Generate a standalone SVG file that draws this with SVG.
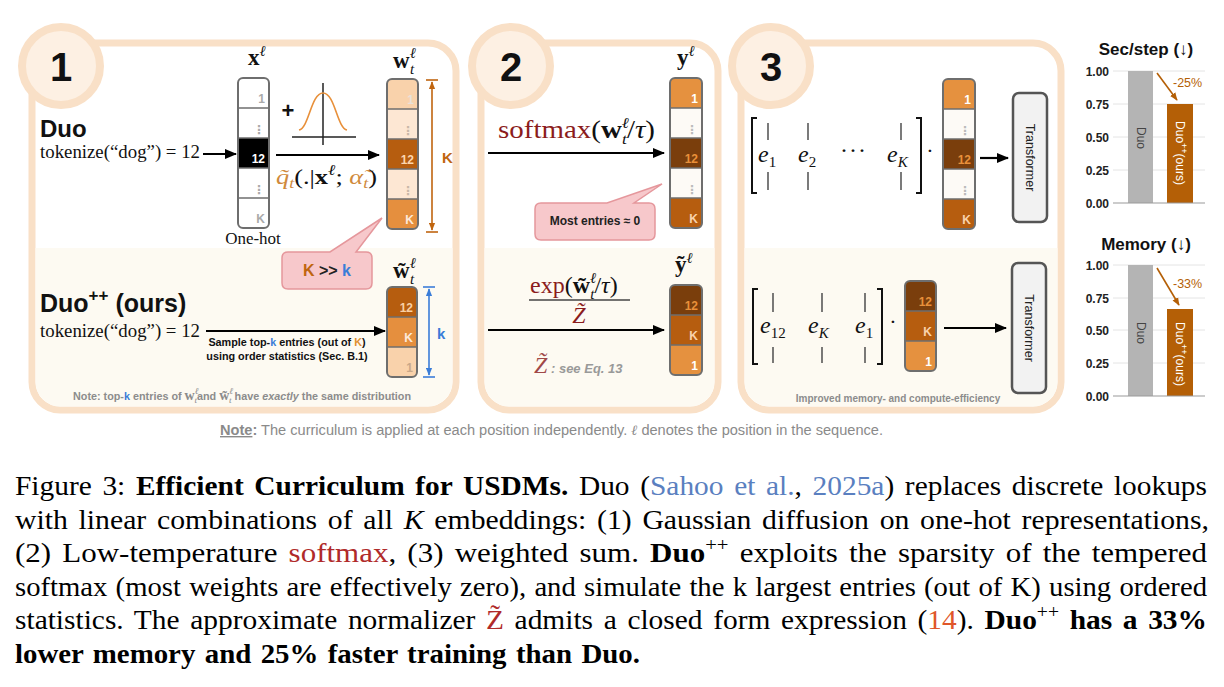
<svg xmlns="http://www.w3.org/2000/svg" width="1224" height="687" viewBox="0 0 1224 687">
<defs>
<marker id="ah" viewBox="0 0 12 10" refX="11" refY="5" markerWidth="12" markerHeight="10" markerUnits="userSpaceOnUse" orient="auto"><path d="M0,0 L12,5 L0,10 Z" fill="#000"/></marker>
<marker id="ahO" viewBox="0 0 10 8" refX="9" refY="4" markerWidth="8" markerHeight="7" markerUnits="userSpaceOnUse" orient="auto-start-reverse"><path d="M0,0 L10,4 L0,8 Z" fill="#c0650f"/></marker>
<marker id="ahB" viewBox="0 0 10 8" refX="9" refY="4" markerWidth="8" markerHeight="7" markerUnits="userSpaceOnUse" orient="auto-start-reverse"><path d="M0,0 L10,4 L0,8 Z" fill="#3b7dd8"/></marker>
<marker id="ahC" viewBox="0 0 10 8" refX="9" refY="4" markerWidth="8" markerHeight="7" markerUnits="userSpaceOnUse" orient="auto"><path d="M0,0 L10,4 L0,8 Z" fill="#b45f06"/></marker>
<style>
.sans{font-family:"Liberation Sans",Arial,sans-serif}
.ser{font-family:"Liberation Serif","Times New Roman",serif}
.panel{fill:#fff;stroke:#f9e0c7;stroke-width:7}
.cream{fill:#fdfaf2}
.circ{fill:#fdf0e3;stroke:#f9e0c7;stroke-width:8}
.num{font-family:"Liberation Sans",Arial,sans-serif;font-weight:bold;font-size:40px;text-anchor:middle;fill:#111}
.div{stroke:#6e6e6e;stroke-width:1.5}
.out{fill:none;stroke:#6e6e6e;stroke-width:2}
.lbl{font-family:"Liberation Sans","DejaVu Sans",Arial,sans-serif;font-weight:bold;font-size:12px;text-anchor:end}
.arr{stroke:#000;stroke-width:2.2;fill:none;marker-end:url(#ah)}
.bub{fill:#f7c8cb;stroke:#e5979c;stroke-width:1.5}
.note{font-family:"Liberation Sans",Arial,sans-serif;font-weight:bold;fill:#8c8c8c}
.bar-l{stroke:#333;stroke-width:1.3}
.brk{fill:none;stroke:#111;stroke-width:2}
.grid{stroke:#e4e4e4;stroke-width:1}
.tick{font-family:"Liberation Sans",Arial,sans-serif;font-weight:bold;font-size:12px;text-anchor:end;fill:#222}
.ttl{font-family:"Liberation Sans","DejaVu Sans",Arial,sans-serif;font-weight:bold;font-size:17px;text-anchor:middle;fill:#111}
.tf{fill:#f2f2f2;stroke:#555;stroke-width:2.5}
.cap{font-family:"Liberation Serif","Times New Roman",serif;font-size:27px;fill:#000}
</style>
</defs>
<rect width="1224" height="687" fill="#fff"/>

<!-- Panels -->
<g id="panel1">
<rect class="panel" x="32" y="43" width="424" height="367" rx="28"/>
<path class="cream" d="M35.5,248 H452.5 V382 A25,25 0 0 1 427.5,406.5 H60.5 A25,25 0 0 1 35.5,382 Z"/>
<circle class="circ" cx="61" cy="66" r="39"/>
<text class="num" x="61" y="81">1</text>
</g>
<g id="panel2">
<rect class="panel" x="481" y="43" width="237" height="367" rx="28"/>
<path class="cream" d="M484.5,248 H714.5 V382 A25,25 0 0 1 689.5,406.5 H509.5 A25,25 0 0 1 484.5,382 Z"/>
<circle class="circ" cx="511" cy="66" r="39"/>
<text class="num" x="511" y="81">2</text>
</g>
<g id="panel3">
<rect class="panel" x="741" y="43" width="320" height="367" rx="28"/>
<path class="cream" d="M744.5,248 H1057.5 V382 A25,25 0 0 1 1032.5,406.5 H769.5 A25,25 0 0 1 744.5,382 Z"/>
<circle class="circ" cx="771" cy="66" r="39"/>
<text class="num" x="771" y="81">3</text>
</g>

<!-- Panel 1 texts -->
<g id="duo-label">
<text class="sans" x="40" y="137" font-size="24" font-weight="bold" fill="#111">Duo</text>
<text class="ser" x="40" y="158" font-size="18.5" textLength="160" lengthAdjust="spacingAndGlyphs" fill="#111">tokenize(“dog”) = 12</text>
</g>
<g id="duopp-label">
<text class="sans" x="40" y="312" font-size="25" font-weight="bold" fill="#111">Duo<tspan font-size="17" dy="-11">++</tspan><tspan dy="11"> (ours)</tspan></text>
<text class="ser" x="40" y="337" font-size="18.5" textLength="160" lengthAdjust="spacingAndGlyphs" fill="#111">tokenize(“dog”) = 12</text>
</g>

<!-- x^l one-hot vector -->
<g id="vec-x">
<text class="ser" x="248" y="65" font-size="23" font-weight="bold" fill="#111">x<tspan font-size="15" font-weight="normal" font-style="italic" dy="-9">ℓ</tspan></text>
<rect x="238" y="78" width="31" height="40" rx="5" fill="#fff"/>
<rect x="238" y="188" width="31" height="40" rx="5" fill="#fff"/>
<rect x="238" y="108" width="31" height="30" fill="#fff"/>
<rect x="238" y="138" width="31" height="30" fill="#000"/>
<rect x="238" y="168" width="31" height="30" fill="#fff"/>
<line class="div" x1="238" y1="108" x2="269" y2="108"/><line class="div" x1="238" y1="138" x2="269" y2="138"/><line class="div" x1="238" y1="168" x2="269" y2="168"/><line class="div" x1="238" y1="198" x2="269" y2="198"/>
<rect class="out" x="238" y="78" width="31" height="150" rx="5"/>
<text class="lbl" x="265" y="103" fill="#aaa">1</text>
<text class="lbl" x="265" y="134" fill="#aaa" font-size="11">⋮</text>
<text class="lbl" x="265" y="163" fill="#fff">12</text>
<text class="lbl" x="265" y="194" fill="#aaa" font-size="11">⋮</text>
<text class="lbl" x="265" y="223" fill="#aaa">K</text>
<text class="ser" x="253" y="244" font-size="17" text-anchor="middle" fill="#111">One-hot</text>
</g>

<!-- Gaussian -->
<g id="gaussian">
<text class="sans" x="288" y="118" font-size="22" font-weight="bold" text-anchor="middle" fill="#111">+</text>
<line x1="292" y1="137" x2="356" y2="137" stroke="#222" stroke-width="1.5"/>
<line x1="323" y1="83" x2="323" y2="145" stroke="#222" stroke-width="1.5"/>
<path d="M299,130 C309,128 311,93 323,93 C335,93 337,128 347,130" fill="none" stroke="#e8903a" stroke-width="1.6"/>
<text class="ser" x="276" y="184" font-size="22" textLength="101" lengthAdjust="spacingAndGlyphs" fill="#111"><tspan fill="#d08a3c" font-style="italic">q̃</tspan><tspan fill="#d08a3c" font-size="15" font-style="italic" dy="4">t</tspan><tspan dy="-4">(.|</tspan><tspan font-weight="bold">x</tspan><tspan font-size="15" font-style="italic" dy="-9">ℓ</tspan><tspan dy="9">; </tspan><tspan fill="#d08a3c" font-style="italic">α̃</tspan><tspan fill="#d08a3c" font-size="15" font-style="italic" dy="4">t</tspan><tspan dy="-4">)</tspan></text>
</g>

<!-- w_t^l vector -->
<g id="vec-w">
<text class="ser" x="393" y="68" font-size="23" font-weight="bold" fill="#111">w<tspan font-size="15" font-weight="normal" font-style="italic" dy="-10">ℓ</tspan><tspan font-size="15" font-weight="normal" font-style="italic" dx="-6" dy="16">t</tspan></text>
<rect x="387" y="79" width="31" height="40" rx="5" fill="#f9d2ab"/>
<rect x="387" y="189" width="31" height="40" rx="5" fill="#e58f3e"/>
<rect x="387" y="109" width="31" height="30" fill="#fde7d3"/>
<rect x="387" y="139" width="31" height="30" fill="#b65d0f"/>
<rect x="387" y="169" width="31" height="30" fill="#fde7d3"/>
<line class="div" x1="387" y1="109" x2="418" y2="109"/><line class="div" x1="387" y1="139" x2="418" y2="139"/><line class="div" x1="387" y1="169" x2="418" y2="169"/><line class="div" x1="387" y1="199" x2="418" y2="199"/>
<rect class="out" x="387" y="79" width="31" height="150" rx="5"/>
<text class="lbl" x="414" y="104" fill="#e9e1d9">1</text>
<text class="lbl" x="414" y="135" fill="#c9b8a8" font-size="11">⋮</text>
<text class="lbl" x="414" y="164" fill="#fcd5ad">12</text>
<text class="lbl" x="414" y="195" fill="#c9b8a8" font-size="11">⋮</text>
<text class="lbl" x="414" y="224" fill="#fde9d9">K</text>
</g>
<g id="dim-K">
<line x1="426" y1="80" x2="438" y2="80" stroke="#c0650f" stroke-width="1.6"/>
<line x1="426" y1="232" x2="438" y2="232" stroke="#c0650f" stroke-width="1.6"/>
<line x1="432" y1="82" x2="432" y2="230" stroke="#c0650f" stroke-width="1.6" marker-start="url(#ahO)" marker-end="url(#ahO)"/>
<text class="sans" x="442" y="163" font-size="15" font-weight="bold" fill="#c0650f">K</text>
</g>

<!-- Bubble K >> k -->
<g id="bubble-Kk">
<path class="bub" d="M288,252 L330,252 L382,218 L356,252 L366,252 Q372,252 372,258 L372,283 Q372,289 366,289 L288,289 Q282,289 282,283 L282,258 Q282,252 288,252 Z"/>
<text class="sans" x="327" y="276" font-size="16" font-weight="bold" text-anchor="middle" fill="#222"><tspan fill="#c0650f">K</tspan> &gt;&gt; <tspan fill="#3b7dd8">k</tspan></text>
</g>

<!-- Sample text -->
<g id="sample-label">
<text class="sans" x="287" y="346" font-size="10.8" font-weight="bold" text-anchor="middle" fill="#111">Sample top-<tspan fill="#3b7dd8">k</tspan> entries (out of <tspan fill="#e0902f">K</tspan>)</text>
<text class="sans" x="287" y="360" font-size="10.8" font-weight="bold" text-anchor="middle" fill="#111">using order statistics (Sec. B.1)</text>
</g>

<!-- w tilde vector -->
<g id="vec-wt">
<text class="ser" x="393" y="278" font-size="23" font-weight="bold" fill="#111">w̃<tspan font-size="15" font-weight="normal" font-style="italic" dy="-10">ℓ</tspan><tspan font-size="15" font-weight="normal" font-style="italic" dx="-6" dy="16">t</tspan></text>
<rect x="387" y="287" width="30" height="40" rx="5" fill="#b65d0f"/>
<rect x="387" y="337" width="30" height="40" rx="5" fill="#f9d2ab"/>
<rect x="387" y="317" width="30" height="30" fill="#e58f3e"/>
<line class="div" x1="387" y1="317" x2="417" y2="317"/><line class="div" x1="387" y1="347" x2="417" y2="347"/>
<rect class="out" x="387" y="287" width="30" height="90" rx="5"/>
<text class="lbl" x="413" y="312" fill="#f9cfa3">12</text>
<text class="lbl" x="413" y="342" fill="#fde9d9">K</text>
<text class="lbl" x="413" y="372" fill="#c9a889">1</text>
</g>
<g id="dim-k">
<line x1="423" y1="287" x2="435" y2="287" stroke="#3b7dd8" stroke-width="1.6"/>
<line x1="423" y1="377" x2="435" y2="377" stroke="#3b7dd8" stroke-width="1.6"/>
<line x1="429" y1="289" x2="429" y2="375" stroke="#3b7dd8" stroke-width="1.6" marker-start="url(#ahB)" marker-end="url(#ahB)"/>
<text class="sans" x="437" y="339" font-size="15" font-weight="bold" fill="#3b7dd8">k</text>
</g>

<g id="note1">
<text class="note" x="73" y="400" font-size="10.8">Note: top-<tspan fill="#3b7dd8">k</tspan> entries of <tspan class="ser" font-size="14" fill="#8c8c8c">w</tspan><tspan class="ser" font-size="9" font-style="italic" font-weight="normal" dy="-6">ℓ</tspan><tspan class="ser" font-size="9" font-style="italic" font-weight="normal" dx="-4" dy="9">t</tspan><tspan dy="-3">and </tspan><tspan class="ser" font-size="14" fill="#8c8c8c">w̃</tspan><tspan class="ser" font-size="9" font-style="italic" font-weight="normal" dy="-6">ℓ</tspan><tspan class="ser" font-size="9" font-style="italic" font-weight="normal" dx="-4" dy="9">t</tspan><tspan dy="-3"> have </tspan><tspan font-style="italic">exactly</tspan> the same distribution</text>
</g>

<!-- Panel 2 -->
<g id="softmax-label">
<text class="ser" x="498" y="138" font-size="25" textLength="157" lengthAdjust="spacingAndGlyphs" fill="#111"><tspan fill="#8b1c1c">softmax</tspan>(<tspan font-weight="bold">w</tspan><tspan font-size="15" font-style="italic" dy="-10">ℓ</tspan><tspan font-size="15" font-style="italic" dx="-6" dy="16">t</tspan><tspan dy="-6">/</tspan><tspan font-style="italic">τ</tspan>)</text>
</g>
<g id="vec-y">
<text class="ser" x="677" y="65" font-size="23" font-weight="bold" fill="#111">y<tspan font-size="15" font-weight="normal" font-style="italic" dy="-9">ℓ</tspan></text>
<rect x="670" y="78" width="32" height="40" rx="5" fill="#e5913f"/>
<rect x="670" y="188" width="32" height="40" rx="5" fill="#b65d0f"/>
<rect x="670" y="108" width="32" height="30" fill="#fdfaf6"/>
<rect x="670" y="138" width="32" height="30" fill="#7a3e0c"/>
<rect x="670" y="168" width="32" height="30" fill="#fdfaf6"/>
<line class="div" x1="670" y1="108" x2="702" y2="108"/><line class="div" x1="670" y1="138" x2="702" y2="138"/><line class="div" x1="670" y1="168" x2="702" y2="168"/><line class="div" x1="670" y1="198" x2="702" y2="198"/>
<rect class="out" x="670" y="78" width="32" height="150" rx="5"/>
<text class="lbl" x="698" y="103" fill="#fff">1</text>
<text class="lbl" x="698" y="134" fill="#bbb" font-size="11">⋮</text>
<text class="lbl" x="698" y="163" fill="#e8903a">12</text>
<text class="lbl" x="698" y="194" fill="#bbb" font-size="11">⋮</text>
<text class="lbl" x="698" y="223" fill="#f9d2ab">K</text>
</g>
<g id="bubble-most">
<path class="bub" d="M541,203 L607,203 L662,184 L634,203 L649,203 Q655,203 655,209 L655,234 Q655,240 649,240 L541,240 Q535,240 535,234 L535,209 Q535,203 541,203 Z"/>
<text class="sans" x="595" y="225" font-size="12" font-weight="bold" text-anchor="middle" fill="#222">Most entries ≈ 0</text>
</g>
<g id="exp-label">
<text class="ser" x="530" y="293" font-size="24" fill="#111"><tspan fill="#8b1c1c">exp</tspan>(<tspan font-weight="bold">w̃</tspan><tspan font-size="15" font-style="italic" dy="-10">ℓ</tspan><tspan font-size="15" font-style="italic" dx="-6" dy="16">t</tspan><tspan dy="-6">/</tspan><tspan font-style="italic">τ</tspan>)</text>
<line x1="529" y1="300" x2="630" y2="300" stroke="#444" stroke-width="1.3"/>
<text class="ser" x="579" y="323" font-size="24" font-style="italic" text-anchor="middle" fill="#8b1c1c">Z̃</text>
<text x="534" y="373"><tspan class="ser" font-size="24" font-style="italic" fill="#a04848">Z̃</tspan><tspan class="sans" font-size="13" font-weight="bold" font-style="italic" fill="#999"> : see Eq. 13</tspan></text>
</g>
<g id="vec-yt">
<text class="ser" x="675" y="272" font-size="23" font-weight="bold" fill="#111">ỹ<tspan font-size="15" font-weight="normal" font-style="italic" dy="-9">ℓ</tspan></text>
<rect x="670" y="285" width="32" height="40" rx="5" fill="#7a3e0c"/>
<rect x="670" y="335" width="32" height="40" rx="5" fill="#e5913f"/>
<rect x="670" y="315" width="32" height="30" fill="#b65d0f"/>
<line class="div" x1="670" y1="315" x2="702" y2="315"/><line class="div" x1="670" y1="345" x2="702" y2="345"/>
<rect class="out" x="670" y="285" width="32" height="90" rx="5"/>
<text class="lbl" x="698" y="310" fill="#e8903a">12</text>
<text class="lbl" x="698" y="340" fill="#f9d2ab">K</text>
<text class="lbl" x="698" y="370" fill="#fff">1</text>
</g>

<!-- Panel 3 -->
<g id="matrix-top">
<path class="brk" d="M757,118 H752 V193 H757"/>
<path class="brk" d="M916,118 H921 V193 H916"/>
<line class="bar-l" x1="768" y1="123" x2="768" y2="140"/><line class="bar-l" x1="768" y1="172" x2="768" y2="190"/>
<line class="bar-l" x1="808" y1="123" x2="808" y2="140"/><line class="bar-l" x1="808" y1="172" x2="808" y2="190"/>
<line class="bar-l" x1="901" y1="123" x2="901" y2="140"/><line class="bar-l" x1="901" y1="172" x2="901" y2="190"/>
<text class="ser" x="758" y="162" font-size="24" font-style="italic" fill="#111">e<tspan font-size="15" font-style="normal" dy="5">1</tspan></text>
<text class="ser" x="798" y="162" font-size="24" font-style="italic" fill="#111">e<tspan font-size="15" font-style="normal" dy="5">2</tspan></text>
<text class="ser" x="840" y="158" font-size="24" fill="#111" letter-spacing="1">···</text>
<text class="ser" x="887" y="162" font-size="24" font-style="italic" fill="#111">e<tspan font-size="15" dy="5">K</tspan></text>
<text class="ser" x="930" y="158" font-size="22" text-anchor="middle" fill="#111">·</text>
</g>
<g id="vec-p3top">
<rect x="943" y="79" width="32" height="40" rx="5" fill="#e5913f"/>
<rect x="943" y="189" width="32" height="40" rx="5" fill="#b65d0f"/>
<rect x="943" y="109" width="32" height="30" fill="#fdfaf6"/>
<rect x="943" y="139" width="32" height="30" fill="#7a3e0c"/>
<rect x="943" y="169" width="32" height="30" fill="#fdfaf6"/>
<line class="div" x1="943" y1="109" x2="975" y2="109"/><line class="div" x1="943" y1="139" x2="975" y2="139"/><line class="div" x1="943" y1="169" x2="975" y2="169"/><line class="div" x1="943" y1="199" x2="975" y2="199"/>
<rect class="out" x="943" y="79" width="32" height="150" rx="5"/>
<text class="lbl" x="971" y="104" fill="#fff">1</text>
<text class="lbl" x="971" y="135" fill="#bbb" font-size="11">⋮</text>
<text class="lbl" x="971" y="164" fill="#e8903a">12</text>
<text class="lbl" x="971" y="195" fill="#bbb" font-size="11">⋮</text>
<text class="lbl" x="971" y="224" fill="#f9d2ab">K</text>
</g>
<g id="transformer-top">
<rect class="tf" x="1013" y="93" width="34" height="129" rx="6"/>
<text class="sans" font-size="12.5" fill="#222" text-anchor="middle" transform="translate(1026,157.5) rotate(90)">Transformer</text>
</g>
<g id="matrix-bot">
<path class="brk" d="M758,289 H753 V364 H758"/>
<path class="brk" d="M877,289 H882 V364 H877"/>
<line class="bar-l" x1="773" y1="293" x2="773" y2="312"/><line class="bar-l" x1="773" y1="347" x2="773" y2="363"/>
<line class="bar-l" x1="822" y1="293" x2="822" y2="312"/><line class="bar-l" x1="822" y1="347" x2="822" y2="363"/>
<line class="bar-l" x1="865" y1="293" x2="865" y2="312"/><line class="bar-l" x1="865" y1="347" x2="865" y2="363"/>
<text class="ser" x="760" y="333" font-size="24" font-style="italic" fill="#111">e<tspan font-size="15" font-style="normal" dy="5">12</tspan></text>
<text class="ser" x="808" y="333" font-size="24" font-style="italic" fill="#111">e<tspan font-size="15" dy="5">K</tspan></text>
<text class="ser" x="855" y="333" font-size="24" font-style="italic" fill="#111">e<tspan font-size="15" font-style="normal" dy="5">1</tspan></text>
<text class="ser" x="893" y="329" font-size="22" text-anchor="middle" fill="#111">·</text>
</g>
<g id="vec-p3bot">
<rect x="905" y="281" width="31" height="40" rx="5" fill="#7a3e0c"/>
<rect x="905" y="331" width="31" height="40" rx="5" fill="#e5913f"/>
<rect x="905" y="311" width="31" height="30" fill="#b65d0f"/>
<line class="div" x1="905" y1="311" x2="936" y2="311"/><line class="div" x1="905" y1="341" x2="936" y2="341"/>
<rect class="out" x="905" y="281" width="31" height="90" rx="5"/>
<text class="lbl" x="932" y="306" fill="#e8903a">12</text>
<text class="lbl" x="932" y="336" fill="#f9d2ab">K</text>
<text class="lbl" x="932" y="366" fill="#fff">1</text>
</g>
<g id="transformer-bot">
<rect class="tf" x="1012" y="263" width="34" height="130" rx="6"/>
<text class="sans" font-size="12.5" fill="#222" text-anchor="middle" transform="translate(1025,328) rotate(90)">Transformer</text>
</g>
<g id="note3">
<text class="note" x="898" y="402" font-size="10" text-anchor="middle">Improved memory- and compute-efficiency</text>
</g>

<!-- Connectors -->
<g id="connectors">
<line class="arr" x1="203" y1="154" x2="236" y2="154"/>
<line class="arr" x1="276" y1="155" x2="379" y2="155"/>
<line class="arr" x1="206" y1="331" x2="385" y2="331"/>
<line class="arr" x1="488" y1="153" x2="664" y2="153"/>
<line class="arr" x1="488" y1="330" x2="664" y2="330"/>
<line class="arr" x1="980" y1="158" x2="1008" y2="158"/>
<line class="arr" x1="944" y1="328" x2="1006" y2="328"/>
</g>

<!-- Charts -->
<g id="chart-sec">
<text class="ttl" x="1146" y="55">Sec/step (↓)</text>
<line class="grid" x1="1113" y1="71" x2="1205" y2="71"/>
<line class="grid" x1="1113" y1="104" x2="1205" y2="104"/>
<line class="grid" x1="1113" y1="137" x2="1205" y2="137"/>
<line class="grid" x1="1113" y1="170" x2="1205" y2="170"/>
<text class="tick" x="1109" y="76">1.00</text>
<text class="tick" x="1109" y="109">0.75</text>
<text class="tick" x="1109" y="142">0.50</text>
<text class="tick" x="1109" y="175">0.25</text>
<text class="tick" x="1109" y="208">0.00</text>
<rect x="1128" y="71" width="25" height="132" fill="#b4b4b4"/>
<rect x="1167" y="104" width="26" height="99" fill="#b45f06"/>
<line x1="1113" y1="203" x2="1205" y2="203" stroke="#999" stroke-width="1.2"/>
<text class="sans" font-size="12" fill="#444" text-anchor="middle" transform="translate(1136.5,138) rotate(90)">Duo</text>
<text class="sans" font-size="12" fill="#fff" text-anchor="middle" transform="translate(1176,153) rotate(90)">Duo<tspan font-size="9" dy="-5">++</tspan><tspan dy="5">(ours)</tspan></text>
<line x1="1157" y1="73" x2="1177" y2="100" stroke="#b45f06" stroke-width="1.6" marker-end="url(#ahC)"/>
<text class="sans" x="1173" y="87" font-size="12.5" fill="#b45f06">-25%</text>
</g>
<g id="chart-mem">
<text class="ttl" x="1146" y="250">Memory (↓)</text>
<line class="grid" x1="1113" y1="265" x2="1205" y2="265"/>
<line class="grid" x1="1113" y1="298" x2="1205" y2="298"/>
<line class="grid" x1="1113" y1="330" x2="1205" y2="330"/>
<line class="grid" x1="1113" y1="363" x2="1205" y2="363"/>
<text class="tick" x="1109" y="270">1.00</text>
<text class="tick" x="1109" y="303">0.75</text>
<text class="tick" x="1109" y="335">0.50</text>
<text class="tick" x="1109" y="368">0.25</text>
<text class="tick" x="1109" y="401">0.00</text>
<rect x="1128" y="265" width="25" height="131" fill="#b4b4b4"/>
<rect x="1167" y="309" width="26" height="87" fill="#b45f06"/>
<line x1="1113" y1="396" x2="1205" y2="396" stroke="#999" stroke-width="1.2"/>
<text class="sans" font-size="12" fill="#444" text-anchor="middle" transform="translate(1136.5,333) rotate(90)">Duo</text>
<text class="sans" font-size="12" fill="#fff" text-anchor="middle" transform="translate(1176,354) rotate(90)">Duo<tspan font-size="9" dy="-5">++</tspan><tspan dy="5">(ours)</tspan></text>
<line x1="1157" y1="268" x2="1179" y2="305" stroke="#b45f06" stroke-width="1.6" marker-end="url(#ahC)"/>
<text class="sans" x="1173" y="288" font-size="12.5" fill="#b45f06">-33%</text>
</g>

<!-- Bottom note -->
<g id="note-main">
<text class="sans" x="220" y="435" font-size="14" textLength="663" lengthAdjust="spacingAndGlyphs" fill="#8a8a8a"><tspan font-weight="bold" text-decoration="underline">Note</tspan><tspan font-weight="bold">:</tspan> The curriculum is applied at each position independently. <tspan class="ser" font-style="italic">ℓ</tspan> denotes the position in the sequence.</text>
</g>

<!-- Caption -->
<g id="caption">
<text class="cap" x="15" y="495" word-spacing="3" textLength="1192" lengthAdjust="spacingAndGlyphs">Figure 3: <tspan font-weight="bold">Efficient Curriculum for USDMs.</tspan> Duo (<tspan fill="#5a7fc0">Sahoo et al.</tspan>, <tspan fill="#5a7fc0">2025a</tspan>) replaces discrete lookups</text>
<text class="cap" x="15" y="529" word-spacing="3" textLength="1194" lengthAdjust="spacingAndGlyphs">with linear combinations of all <tspan font-style="italic">K</tspan> embeddings: (1) Gaussian diffusion on one-hot representations,</text>
<text class="cap" x="15" y="562" word-spacing="3" textLength="1192" lengthAdjust="spacingAndGlyphs">(2) Low-temperature <tspan fill="#b02a2a">softmax</tspan>, (3) weighted sum.  <tspan font-weight="bold">Duo</tspan><tspan font-size="18" dy="-11">++</tspan><tspan dy="11"> exploits the sparsity of the tempered</tspan></text>
<text class="cap" x="15" y="596" word-spacing="1" textLength="1192" lengthAdjust="spacingAndGlyphs">softmax (most weights are effectively zero), and simulate the k largest entries (out of K) using ordered</text>
<text class="cap" x="15" y="629" word-spacing="3" textLength="1192" lengthAdjust="spacingAndGlyphs">statistics. The approximate normalizer <tspan fill="#b02a2a">Z̃</tspan> admits a closed form expression (<tspan fill="#e0562a">14</tspan>). <tspan font-weight="bold">Duo</tspan><tspan font-size="18" dy="-11">++</tspan><tspan dy="11" font-weight="bold"> has a 33%</tspan></text>
<text class="cap" x="15" y="663" font-weight="bold" word-spacing="2" textLength="625" lengthAdjust="spacingAndGlyphs">lower memory and 25% faster training than Duo.</text>
</g>
</svg>
